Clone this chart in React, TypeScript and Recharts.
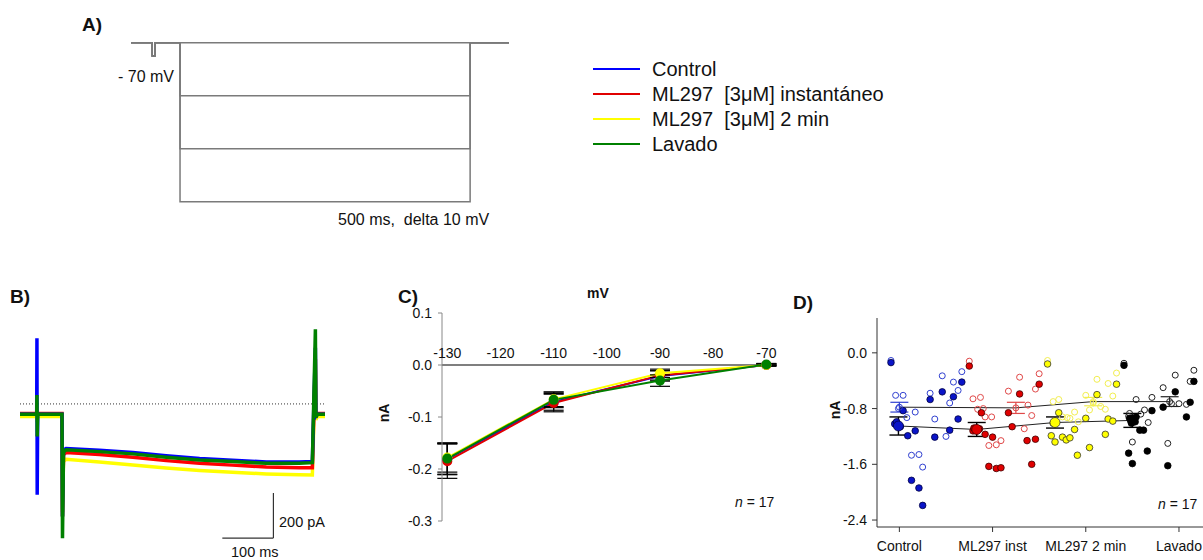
import React from "react";
import {
  LineChart,
  Line,
  ComposedChart,
  Scatter,
  XAxis,
  YAxis,
  ReferenceLine,
  ErrorBar,
} from "recharts";

const FONT = '"Liberation Sans", Arial, Helvetica, sans-serif';

// ---- A) voltage protocol (ms, mV)
const protocolTime = [-84.5, -48, -48, -43, -43, 0, 0, 500, 500, 567];
const protocolStep0 = [-70, -70, -75, -75, -70, -70, -70, -70, -70, -70];
const protocolStep1 = [-70, -70, -75, -75, -70, -70, -90, -90, -70, -70];
const protocolStep2 = [-70, -70, -75, -75, -70, -70, -110, -110, -70, -70];
const protocolStep3 = [-70, -70, -75, -75, -70, -70, -130, -130, -70, -70];

// ---- legend
const conditionNames = ["Control", "ML297  [3μM] instantáneo", "ML297  [3μM] 2 min", "Lavado"];
const conditionColors = ["#0000ff", "#e00000", "#ffff00", "#008000"];

// ---- B) current traces (ms, pA)
const traceTime = [-84, -51, -50.5, -50, -49, -1, 0, 2, 7, 73, 139, 205, 271, 336, 403, 468, 494, 500, 501, 504, 519];
const traceControl = [-46, -46, 292, -404, -46, -46, -500, -205, -198, -206, -216, -230, -242, -250, -258, -258, -256, 250, -55, -46, -46];
const traceInst = [-43, -43, -43, -43, -43, -43, -500, -225, -216, -225, -237, -252, -264, -272, -280, -284, -284, 200, -60, -43, -43];
const trace2min = [-56, -56, -56, -80, -56, -56, -480, -255, -246, -258, -271, -285, -296, -304, -311, -315, -316, 150, -70, -56, -56];
const traceLavado = [-46, -46, 40, -145, -46, -46, -597, -215, -204, -212, -222, -237, -249, -256, -264, -264, -261, 332, -60, -46, -46];

// ---- C) I-V curve (mV, nA)
const ivVoltage = [-130, -110, -90, -70];
const ivControl = [-0.181, -0.071, -0.021, 0.0];
const ivControlErr = [0.03, 0.016, 0.01, 0.002];
const ivInst = [-0.185, -0.073, -0.02, 0.0];
const ivInstErr = [0.033, 0.017, 0.009, 0.002];
const iv2min = [-0.178, -0.066, -0.016, 0.0];
const iv2minErr = [0.028, 0.014, 0.008, 0.002];
const ivLavado = [-0.18, -0.067, -0.03, 0.001];
const ivLavadoErr = [0.03, 0.015, 0.011, 0.002];

// ---- D) individual cells (x = jittered group position, y = nA)
const groupNames = ["Control", "ML297 inst", "ML297 2 min", "Lavado"];
const controlOpen = [[-0.09,-0.11],[-0.04,-0.61],[0.04,-0.61],[-0.01,-0.80],[0.08,-0.93],[0.17,-0.85],[0.13,-1.47],[0.21,-1.46],[0.25,-1.64],[0.33,-0.58],[0.38,-0.95],[0.46,-0.33],[0.54,-0.72],[0.50,-1.20],[0.58,-0.42],[0.63,-0.54],[0.67,-0.27]];
const controlFilled = [[-0.09,-0.14],[0.04,-0.83],[0.09,-1.19],[0.17,-1.12],[0.13,-1.83],[0.21,-1.94],[0.25,-2.19],[0.33,-0.67],[0.38,-1.21],[0.46,-0.56],[0.54,-1.11],[0.58,-0.63],[0.63,-0.95],[0.67,-0.42],[-0.05,-1.02],[0.01,-1.06],[-0.03,-0.99]];
const instOpen = [[0.75,-0.12],[0.79,-0.66],[0.87,-0.64],[0.84,-0.81],[0.92,-0.92],[0.99,-0.92],[0.96,-1.33],[1.04,-1.32],[1.09,-1.26],[1.17,-0.55],[1.29,-0.35],[1.34,-1.09],[1.38,-0.75],[1.42,-0.90],[1.46,-0.52],[1.50,-0.30],[0.90,-0.80]];
const instFilled = [[0.75,-0.19],[0.88,-0.86],[0.92,-1.17],[1.00,-1.21],[0.96,-1.63],[1.04,-1.66],[1.09,-1.65],[1.17,-0.86],[1.21,-1.06],[1.29,-0.59],[1.37,-1.26],[1.46,-1.24],[1.42,-1.60],[1.50,-0.45],[0.79,-1.12],[0.86,-1.09],[0.80,-1.08]];
const min2Open = [[1.59,-0.11],[1.71,-0.67],[1.75,-0.92],[1.80,-0.93],[1.83,-0.94],[1.88,-0.85],[1.92,-0.99],[2.00,-0.61],[2.04,-0.82],[2.08,-0.72],[2.12,-0.38],[2.16,-0.77],[2.21,-0.81],[2.24,-0.44],[2.29,-0.62],[2.33,-0.29],[1.65,-0.70]];
const min2Filled = [[1.59,-0.16],[1.71,-0.86],[1.63,-1.19],[1.67,-1.28],[1.75,-1.21],[1.79,-1.25],[1.83,-1.22],[1.88,-1.10],[1.91,-1.47],[2.00,-0.94],[2.04,-1.36],[2.12,-0.60],[2.21,-1.17],[2.24,-0.95],[2.29,-0.98],[2.33,-0.45],[1.65,-1.01]];
const lavOpen = [[2.41,-0.15],[2.46,-0.91],[2.50,-1.28],[2.54,-0.67],[2.59,-0.88],[2.63,-0.82],[2.67,-1.00],[2.71,-0.64],[2.83,-0.50],[2.88,-1.30],[2.96,-0.32],[3.00,-0.73],[3.08,-0.74],[3.12,-0.41],[3.16,-0.25],[2.47,-0.87],[2.92,-0.73]];
const lavFilled = [[2.41,-0.18],[2.46,-1.44],[2.50,-1.59],[2.58,-1.11],[2.62,-1.11],[2.66,-1.41],[2.71,-0.83],[2.83,-0.78],[2.88,-1.62],[2.96,-0.56],[3.08,-0.92],[3.12,-0.71],[3.16,-0.41],[2.47,-0.94],[2.53,-0.99],[2.54,-0.92],[2.49,-1.01]];
// means +- SE : [x, y, err]
const meansOpen = [[0.0,-0.78,0.07],[1.25,-0.79,0.08],[2.08,-0.70,0.06],[2.90,-0.70,0.07]];
const meansFilled = [[-0.01,-1.05,0.13],[0.83,-1.10,0.10],[1.67,-1.00,0.08],[2.50,-0.97,0.10]];
const meanFills = ["#0a14c8", "#e00000", "#ffff00", "#000000"];
const openColors = ["#3040d0", "#e04848", "#f2ee50", "#222222"];

const toPts = (arr: number[][]) => arr.map(([x, y]) => ({ x, y }));

const Txt = ({ left, top, size = 14, bold = false, children, style = {} }: any) => (
  <div
    style={{
      position: "absolute",
      left,
      top,
      fontSize: size,
      fontWeight: bold ? "bold" : "normal",
      lineHeight: `${size + 2}px`,
      whiteSpace: "pre",
      color: "#111",
      ...style,
    }}
  >
    {children}
  </div>
);

const openDot = (color: string) => (p: any) =>
  <circle cx={p.cx} cy={p.cy} r={3} fill="none" stroke={color} strokeWidth={1} />;
const filledDot = (fill: string, stroke: string) => (p: any) =>
  <circle cx={p.cx} cy={p.cy} r={3.3} fill={fill} stroke={stroke} strokeWidth={0.8} />;

const ivTick = (props: any) => (
  <text x={props.x} y={props.y + 53} textAnchor="middle" fontSize={14} fill="#111" fontFamily={FONT}>
    {props.payload.value}
  </text>
);

export default function App() {
  const protocolRows = protocolTime.map((t, i) => ({
    t,
    s0: protocolStep0[i],
    s1: protocolStep1[i],
    s2: protocolStep2[i],
    s3: protocolStep3[i],
  }));
  const traceRows = traceTime.map((t, i) => ({
    t,
    control: traceControl[i],
    inst: traceInst[i],
    min2: trace2min[i],
    lavado: traceLavado[i],
  }));
  const ivRows = ivVoltage.map((v, i) => ({
    v,
    control: ivControl[i],
    controlErr: ivControlErr[i],
    inst: ivInst[i],
    instErr: ivInstErr[i],
    min2: iv2min[i],
    min2Err: iv2minErr[i],
    lavado: ivLavado[i],
    lavadoErr: ivLavadoErr[i],
  }));
  const ivKeys = ["control", "inst", "min2", "lavado"];

  const openSets = [controlOpen, instOpen, min2Open, lavOpen];
  const filledSets = [controlFilled, instFilled, min2Filled, lavFilled];
  const filledStroke = ["#000040", "#400000", "#333333", "#000000"];
  const openMeanPts = meansOpen.map(([x, y, err]) => ({ x, y, err }));
  const filledMeanPts = meansFilled.map(([x, y, err]) => ({ x, y, err }));

  return (
    <div
      style={{
        position: "absolute",
        left: 0,
        top: 0,
        width: 1203,
        height: 560,
        overflow: "hidden",
        background: "#fff",
        fontFamily: FONT,
      }}
    >
      {/* A) protocol */}
      <Txt left={82} top={14} size={19} bold>A)</Txt>
      <div style={{ position: "absolute", left: 131, top: 30 }}>
        <LineChart width={378} height={180} data={protocolRows} margin={{ top: 0, right: 0, bottom: 0, left: 0 }}>
          <XAxis type="number" dataKey="t" domain={[-84.5, 567]} hide />
          <YAxis type="number" domain={[-133.1, -65.2]} hide />
          {["s0", "s1", "s2", "s3"].map((k) => (
            <Line key={k} dataKey={k} type="linear" stroke="#7a7a7a" strokeWidth={1.5} dot={false} isAnimationActive={false} />
          ))}
        </LineChart>
      </div>
      <Txt left={118} top={68} size={16}>- 70 mV</Txt>
      <Txt left={338} top={211} size={16}>500 ms,  delta 10 mV</Txt>

      {/* legend */}
      {conditionNames.map((name, i) => (
        <React.Fragment key={name}>
          <div style={{ position: "absolute", left: 593, top: 68 + i * 25, width: 47, height: 2, background: conditionColors[i] }} />
          <Txt left={652} top={58 + i * 25} size={20} style={{ lineHeight: "22px" }}>{name}</Txt>
        </React.Fragment>
      ))}

      {/* B) traces */}
      <Txt left={10} top={286} size={19} bold>B)</Txt>
      <div style={{ position: "absolute", left: 20, top: 320 }}>
        <LineChart width={305} height={225} data={traceRows} margin={{ top: 0, right: 0, bottom: 0, left: 0 }}>
          <XAxis type="number" dataKey="t" domain={[-84, 519]} hide />
          <YAxis type="number" domain={[-627, 373]} hide />
          <ReferenceLine y={0} stroke="#333" strokeDasharray="1 2" />
          <Line dataKey="min2" type="linear" stroke="#ffff00" strokeWidth={3.5} dot={false} isAnimationActive={false} />
          <Line dataKey="inst" type="linear" stroke="#ff0000" strokeWidth={3.5} dot={false} isAnimationActive={false} />
          <Line dataKey="control" type="linear" stroke="#0000ff" strokeWidth={3.5} dot={false} isAnimationActive={false} />
          <Line dataKey="lavado" type="linear" stroke="#008000" strokeWidth={3.5} dot={false} isAnimationActive={false} />
          <ReferenceLine segment={[{ x: 316, y: -596 }, { x: 417, y: -596 }]} stroke="#333" strokeWidth={1.2} />
          <ReferenceLine segment={[{ x: 417, y: -596 }, { x: 417, y: -396 }]} stroke="#333" strokeWidth={1.2} />
        </LineChart>
      </div>
      <Txt left={279} top={514} size={14.5}>200 pA</Txt>
      <Txt left={231} top={544} size={14.5}>100 ms</Txt>

      {/* C) I-V */}
      <Txt left={398} top={286} size={19} bold>C)</Txt>
      <Txt left={587} top={285} size={14} bold>mV</Txt>
      <Txt left={375} top={405} size={14} bold style={{ transform: "rotate(-90deg)" }}>nA</Txt>
      <div style={{ position: "absolute", left: 380, top: 280 }}>
        <LineChart width={420} height={250} data={ivRows} margin={{ top: 3, right: 23, bottom: 9, left: 0 }}>
          <XAxis
            type="number"
            dataKey="v"
            orientation="top"
            domain={[-131, -68]}
            ticks={[-130, -120, -110, -100, -90, -80, -70]}
            axisLine={false}
            tickLine={false}
            height={30}
            tick={ivTick}
            allowDataOverflow
          />
          <YAxis
            type="number"
            domain={[-0.3, 0.1]}
            ticks={[0.1, 0, -0.1, -0.2, -0.3]}
            tickFormatter={(v: number) => v.toFixed(1)}
            width={62}
            tickSize={4}
            tickMargin={6}
            stroke="#888"
            tick={{ fontSize: 14, fill: "#111", fontFamily: FONT }}
            allowDataOverflow
          />
          <ReferenceLine y={0} stroke="#000" strokeWidth={1.2} />
          {ivKeys.map((k, i) => (
            <Line
              key={k}
              dataKey={k}
              type="linear"
              stroke={conditionColors[i]}
              strokeWidth={2}
              dot={{ r: 4, fill: conditionColors[i], stroke: conditionColors[i] }}
              activeDot={false}
              isAnimationActive={false}
            >
              <ErrorBar dataKey={`${k}Err`} width={10} stroke="#000" strokeWidth={1.2} direction="y" />
            </Line>
          ))}
        </LineChart>
      </div>
      <Txt left={735} top={494} size={14}><i>n</i> = 17</Txt>

      {/* D) scatter */}
      <Txt left={793} top={292} size={19} bold>D)</Txt>
      <Txt left={826} top={402} size={14} bold style={{ transform: "rotate(-90deg)" }}>nA</Txt>
      <div style={{ position: "absolute", left: 820, top: 300 }}>
        <ComposedChart width={386} height={260} margin={{ top: 18, right: 0, bottom: 0, left: 0 }}>
          <XAxis
            type="number"
            dataKey="x"
            domain={[-0.24, 3.29]}
            ticks={[0, 1, 2, 3]}
            tickFormatter={(v: number) => groupNames[v] ?? ""}
            height={33}
            tickSize={5}
            tickMargin={9}
            stroke="#333"
            tick={{ fontSize: 14, fill: "#111", fontFamily: FONT }}
            allowDataOverflow
          />
          <YAxis
            type="number"
            dataKey="y"
            domain={[-2.5, 0.5]}
            ticks={[0, -0.8, -1.6, -2.4]}
            tickFormatter={(v: number) => v.toFixed(1)}
            width={57}
            tickSize={5}
            tickMargin={5}
            stroke="#333"
            tick={{ fontSize: 14, fill: "#111", fontFamily: FONT }}
            allowDataOverflow
          />
          {openSets.map((set, i) => (
            <Scatter key={`o${i}`} data={toPts(set)} shape={openDot(openColors[i])} isAnimationActive={false} />
          ))}
          {filledSets.map((set, i) => (
            <Scatter key={`f${i}`} data={toPts(set)} shape={filledDot(meanFills[i], filledStroke[i])} isAnimationActive={false} />
          ))}
          <Line data={openMeanPts} dataKey="y" type="linear" stroke="#222" strokeWidth={1} dot={false} activeDot={false} isAnimationActive={false} />
          <Line data={filledMeanPts} dataKey="y" type="linear" stroke="#222" strokeWidth={1} dot={false} activeDot={false} isAnimationActive={false} />
          {openMeanPts.map((p, i) => (
            <Scatter key={`om${i}`} data={[p]} shape={openDot(openColors[i])} isAnimationActive={false}>
              <ErrorBar dataKey="err" direction="y" width={9} stroke={openColors[i]} strokeWidth={1.2} />
            </Scatter>
          ))}
          {filledMeanPts.map((p, i) => (
            <Scatter
              key={`fm${i}`}
              data={[p]}
              shape={(s: any) => <circle cx={s.cx} cy={s.cy} r={5} fill={meanFills[i]} stroke={filledStroke[i]} strokeWidth={0.8} />}
              isAnimationActive={false}
            >
              <ErrorBar dataKey="err" direction="y" width={9} stroke="#000" strokeWidth={1.4} />
            </Scatter>
          ))}
        </ComposedChart>
      </div>
      <Txt left={1158} top={496} size={14}><i>n</i> = 17</Txt>
    </div>
  );
}
